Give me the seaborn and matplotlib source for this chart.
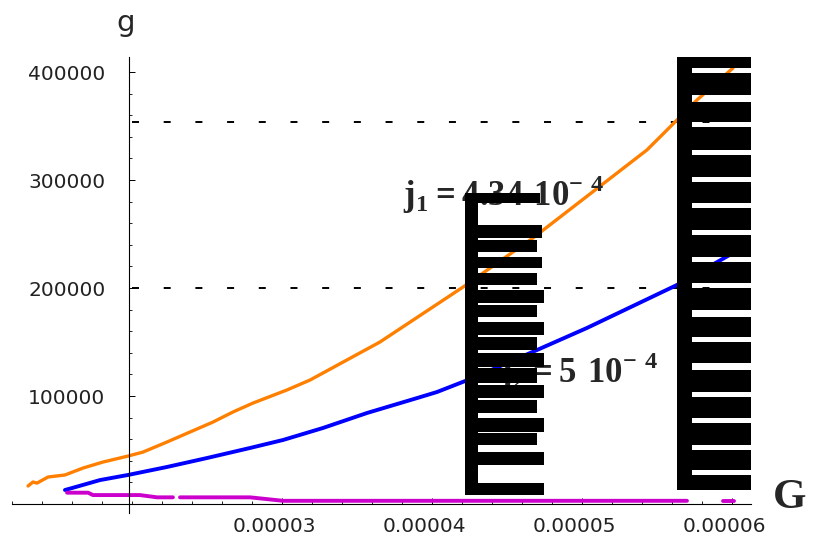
import numpy as np
import pandas as pd
import matplotlib
matplotlib.use('Agg')
import matplotlib.pyplot as plt
import matplotlib.ticker as mticker
import matplotlib.transforms as mtrans
from matplotlib.patches import Rectangle
import seaborn as sns

# ------------------------------------------------------
# DATA
# ------------------------------------------------------

orange_G = [1.307e-5, 1.34e-5, 1.367e-5, 1.44e-5, 1.553e-5, 1.673e-5, 1.807e-5,
            1.973e-5, 2.073e-5, 2.233e-5, 2.387e-5, 2.54e-5, 2.673e-5, 2.807e-5,
            3.033e-5, 3.187e-5, 3.653e-5, 4.207e-5, 4.673e-5, 5.433e-5, 5.52e-5,
            5.767e-5, 6.007e-5]
orange_g = [16700, 20400, 19400, 25000, 26900, 33300, 38900,
            44400, 48100, 57400, 66700, 75900, 85200, 93500,
            105600, 114800, 150000, 200900, 246300, 327800, 339800,
            374100, 403700]

blue_G = [1.553e-5, 1.6e-5, 1.787e-5, 1.973e-5, 2.233e-5, 2.5e-5, 2.787e-5,
          3.007e-5, 3.273e-5, 3.567e-5, 3.9e-5, 4.033e-5, 4.273e-5, 4.7e-5,
          5.033e-5, 5.633e-5, 6.007e-5]
blue_g = [13000, 14800, 22200, 26900, 34300, 42600, 51900,
          59300, 70400, 84300, 98100, 103700, 116700, 142600,
          163000, 202800, 232400]

# magenta curve comes in three pieces
magenta_G = [1.567e-5, 1.707e-5, 1.74e-5, 2.053e-5, 2.167e-5, 2.273e-5,
             2.32e-5, 2.787e-5, 3.007e-5, 5.7e-5,
             5.94e-5, 6.013e-5]
magenta_g = [10500, 10500, 8300, 8300, 6200, 6200,
             6200, 6200, 3000, 3000,
             3000, 3000]
magenta_seg = [0, 0, 0, 0, 0, 0,
               1, 1, 1, 1,
               2, 2]

dashed_levels = [200000, 354000]

x_ticks = [0.00003, 0.00004, 0.00005, 0.00006]
x_ticklabels = ['0.00003', '0.00004', '0.00005', '0.00006']
y_ticks = [100000, 200000, 300000, 400000]
y_ticklabels = ['100000', '200000', '300000', '400000']

# ------------------------------------------------------
# PLOT
# ------------------------------------------------------

sns.set_style('white')
plt.rcParams['font.family'] = ['DejaVu Sans']
plt.rcParams['mathtext.fontset'] = 'custom'
plt.rcParams['mathtext.bf'] = 'Liberation Serif:bold'
plt.rcParams['mathtext.rm'] = 'Liberation Serif:bold'

W, H = 813, 539
fig = plt.figure(figsize=(W / 100, H / 100), dpi=100)
ax = fig.add_axes([12 / W, 1 - 513 / H, (751 - 12) / W, (513 - 57) / H])

df_o = pd.DataFrame({'G': orange_G, 'g': orange_g})
df_b = pd.DataFrame({'G': blue_G, 'g': blue_g})
df_m = pd.DataFrame({'G': magenta_G, 'g': magenta_g, 'seg': magenta_seg})

sns.lineplot(data=df_o, x='G', y='g', color='#FF8000', lw=2.4, sort=False,
             estimator=None, ax=ax, solid_capstyle='round')
sns.lineplot(data=df_b, x='G', y='g', color='#0000FF', lw=2.8, sort=False,
             estimator=None, ax=ax, solid_capstyle='round')
for s, part in df_m.groupby('seg'):
    sns.lineplot(data=part, x='G', y='g', color='#CC00CC', lw=2.8, sort=False,
                 estimator=None, ax=ax, solid_capstyle='round')

ax.hlines(dashed_levels, 2.0e-5, 6.0e-5, colors='black', lw=1.4,
          linestyles=(0, (3.6, 12.7)), zorder=1)

# axes crossing near (2e-5, 0)
ax.set_xlim(1.2e-5, 6.127e-5)
ax.set_ylim(-8300, 413900)
for side in ['top', 'right']:
    ax.spines[side].set_visible(False)
ax.spines['left'].set_position(('data', 1.98e-5))
ax.spines['bottom'].set_position(('data', 0))
for side in ['left', 'bottom']:
    ax.spines[side].set_linewidth(0.8)
    ax.spines[side].set_color('black')

ax.xaxis.set_major_locator(mticker.FixedLocator(x_ticks))
ax.xaxis.set_major_formatter(mticker.FixedFormatter(x_ticklabels))
ax.xaxis.set_minor_locator(mticker.MultipleLocator(2e-6))
ax.yaxis.set_major_locator(mticker.FixedLocator(y_ticks))
ax.yaxis.set_major_formatter(mticker.FixedFormatter(y_ticklabels))
ax.yaxis.set_minor_locator(mticker.MultipleLocator(20000))

ax.tick_params(which='both', bottom=True, left=True, top=False, right=False)
ax.tick_params(which='major', direction='in', length=4.3, width=0.7, colors='black',
               labelsize=14.5, labelcolor='#222222')
ax.tick_params(which='minor', direction='in', length=2.2, width=0.6, colors='black')
ax.tick_params(axis='y', which='major', pad=17)
ax.tick_params(axis='x', which='major', pad=9)
for lab in ax.get_xticklabels():
    lab.set_transform(lab.get_transform() +
                      mtrans.ScaledTranslation(-8 / 100, 0, fig.dpi_scale_trans))

ax.set_xlabel('')
ax.set_ylabel('')

# axis names
fig.text(126 / W, 1 - 23 / H, 'g', fontsize=21, ha='center', va='center')
fig.text(790 / W, 1 - 498 / H, 'G', fontsize=31, ha='center', va='center',
         family='Liberation Serif', weight='bold')

# curve labels
ax.text(3.807e-5, 275900, r'$\mathbf{j}_{\mathbf{1}}\mathbf{=4.34\ 10}^{\mathbf{-\ 4}}$',
        fontsize=25, ha='left', va='baseline', zorder=3)
ax.text(4.453e-5, 112000, r'$\mathbf{j}_{\mathbf{2}}\mathbf{=5\ 10}^{\mathbf{-\ 4}}$',
        fontsize=25, ha='left', va='baseline', zorder=3)


# black blocks that cover the labels in the reference
def px_box(x0, y0, x1, y1):
    fig.add_artist(Rectangle((x0 / W, 1 - y1 / H), (x1 - x0) / W, (y1 - y0) / H,
                             transform=fig.transFigure, facecolor='black',
                             edgecolor='none', zorder=5))


px_box(465, 193, 540, 203)
px_box(465, 193, 478, 495)
bars1 = [(225, 238.3, 542), (240, 251.7, 537), (256.7, 268.3, 542), (273.3, 285, 537),
         (290, 303.3, 544), (305, 316.7, 537), (321.7, 335, 544), (336.7, 350, 537),
         (353.3, 366.7, 544), (368.3, 383.3, 537), (385, 398.3, 544), (400, 413.3, 537),
         (418.3, 431.7, 544), (433.3, 445, 537), (451.7, 465, 544), (483.3, 495, 544)]
for y0, y1, xr in bars1:
    px_box(478, y0, xr, y1)

px_box(677, 57, 692, 490)
gaps2 = [(68.3, 73.3), (95, 101.7), (121.7, 126.7), (150, 155), (176.7, 181.7),
         (203.3, 208.3), (230, 235), (256.7, 261.7), (283.3, 288.3), (310, 316.7),
         (336.7, 341.7), (363.3, 370), (391.7, 396.7), (418.3, 423.3), (445, 450),
         (470, 475)]
top = 57
for g0, g1 in gaps2:
    px_box(692, top, 751, g0)
    top = g1
px_box(692, top, 751, 490)

plt.savefig('out.png', dpi=100)
plt.close('all')
